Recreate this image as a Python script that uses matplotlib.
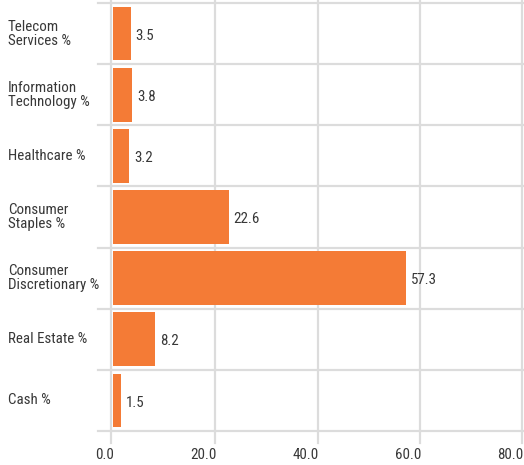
import matplotlib
matplotlib.use("Agg")
import matplotlib.pyplot as plt
import matplotlib.transforms as mtransforms
from matplotlib import font_manager

# data
categories = ["Telecom\nServices %", "Information\nTechnology %", "Healthcare %",
              "Consumer\nStaples %", "Consumer\nDiscretionary %", "Real Estate %", "Cash %"]
values = [3.5, 3.8, 3.2, 22.6, 57.3, 8.2, 1.5]
x_ticks = [0, 20, 40, 60, 80]
x_tick_labels = ["0.0", "20.0", "40.0", "60.0", "80.0"]

installed = {f.name for f in font_manager.fontManager.ttflist}
fam = [f for f in ["Roboto Condensed", "Liberation Sans Narrow", "Open Sans Condensed",
                   "Roboto", "DejaVu Sans"] if f in installed]
plt.rcParams["font.family"] = fam

bar_color = "#F47B36"
grid_color = "#DCDCDC"
text_color = "#383838"
fs = 10.8

W, H = 524, 465
left_px, right_px, top_px, bottom_px = 113, 522, 3, 431
fig = plt.figure(figsize=(W / 100, H / 100), dpi=100)
ax = fig.add_axes([left_px / W, (H - bottom_px) / H,
                   (right_px - left_px) / W, (bottom_px - top_px) / H])
aw, ah = right_px - left_px, bottom_px - top_px

y = list(range(len(categories)))
ax.barh(y, values, height=0.88, color=bar_color, zorder=2)
ax.set_xlim(0, 80)
ax.set_ylim(len(categories) - 0.5, -0.5)

for s in ax.spines.values():
    s.set_visible(False)

# horizontal separators between categories
for b in [i - 0.5 for i in range(len(categories) + 1)]:
    ax.axhline(b, xmin=-15 / aw, xmax=1 + 2 / aw, color=grid_color, lw=1.6,
               clip_on=False, zorder=1)

# vertical grid lines, running a little past the plot area
shift = mtransforms.ScaledTranslation(-2 / 100, 0, fig.dpi_scale_trans)
for t in x_ticks:
    ln = ax.axvline(t, ymin=-12 / ah, ymax=1 + 3 / ah, color=grid_color,
                    lw=1.6, clip_on=False, zorder=1)
    if t == 0:
        ln.set_transform(ln.get_transform() + shift)

ax.set_xticks(x_ticks)
ax.set_xticklabels(x_tick_labels)
ax.tick_params(axis="x", length=0, pad=12, labelsize=fs, labelcolor=text_color)
offset = mtransforms.ScaledTranslation(1.5 / 100, 0, fig.dpi_scale_trans)
for lbl in ax.get_xticklabels():
    lbl.set_ha("right")
    lbl.set_transform(lbl.get_transform() + offset)

ax.set_yticks([])
for yi, name in zip(y, categories):
    ax.annotate(name, xy=(0, yi), xycoords=("figure fraction", "data"),
                xytext=(8 * 0.72, 0), textcoords="offset points",
                ha="left", va="center", fontsize=fs, color=text_color, linespacing=1.0)

for yi, v in zip(y, values):
    ax.annotate(f"{v:.1f}", xy=(v, yi), xytext=(3.5, -1.5), textcoords="offset points",
                ha="left", va="center", fontsize=fs, color=text_color)

fig.savefig("out.png", dpi=100)
